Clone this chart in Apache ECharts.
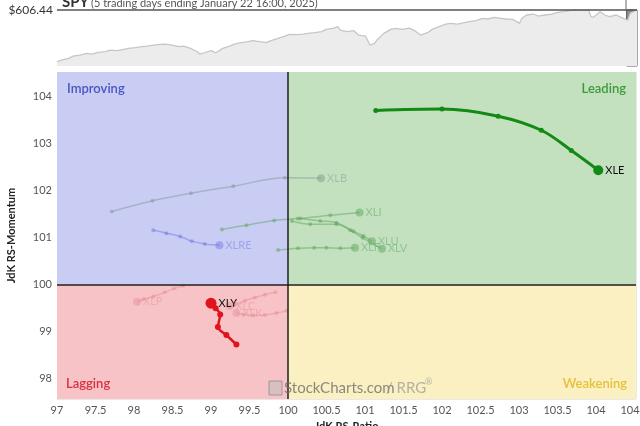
<!DOCTYPE html>
<html><head><meta charset="utf-8">
<script src="https://cdn.jsdelivr.net/npm/echarts@6/dist/echarts.min.js"></script>
<style>html,body{margin:0;padding:0;background:#fff}#c{width:640px;height:426px}</style>
</head><body><div id="c"></div>
<script>
// ---- RRG trails: [JdK RS-Ratio, JdK RS-Momentum], tail -> head ----
const XLE  = [[101.14,103.71],[102.00,103.74],[102.73,103.59],[103.29,103.29],[103.68,102.86],[104.03,102.44]];
const XLY  = [[99.33,98.73],[99.20,98.93],[99.09,99.10],[99.12,99.37],[99.06,99.50],[99.00,99.61]];
const XLB  = [[97.71,101.56],[98.24,101.79],[98.74,101.95],[99.29,102.10],[99.96,102.28],[100.43,102.27]];
const XLRE = [[98.25,101.16],[98.42,101.10],[98.60,101.03],[98.75,100.93],[98.92,100.87],[99.11,100.84]];
const XLI  = [[99.14,101.18],[99.46,101.27],[99.82,101.37],[100.13,101.41],[100.55,101.48],[100.93,101.54]];
const XLU  = [[100.16,101.41],[100.42,101.36],[100.63,101.32],[100.85,101.14],[100.98,101.04],[101.09,100.93]];
const XLV  = [[100.05,101.36],[100.29,101.29],[100.63,101.29],[100.81,101.16],[100.97,101.00],[101.22,100.77]];
const XLF  = [[99.87,100.74],[100.13,100.78],[100.34,100.79],[100.50,100.79],[100.68,100.78],[100.87,100.79]];
const XLP  = [[98.64,99.98],[98.52,99.92],[98.40,99.84],[98.25,99.75],[98.12,99.69],[98.04,99.64]];
const XLC  = [[99.84,99.84],[99.70,99.79],[99.57,99.73],[99.44,99.66],[99.32,99.58],[99.24,99.55]];
const XLK  = [[99.98,99.45],[99.85,99.40],[99.70,99.36],[99.55,99.35],[99.42,99.37],[99.33,99.40]];

// ---- axis ranges ----
const ratioMin = 97, ratioMax = 104.52, ratioStep = 0.5;
const momMin = 97.57, momMax = 104.53;
const centre = 100;

// ---- SPY benchmark panel (trading day index, price) ----
const spyDays = [0,2,5,7,10,13,15,18,21,23,26,29,31,34,37,39,42,45,47,50,53,55,58,61,62,64,67,69,72,75,77,80,83,85,88,91,93,96,99,101,104,107,109,112,115,117,120,122,123,126,129,131,134,136,138,139,142,145,147,150,153,155,158,161,163,166,169,171,174,177,179,182,185,187,190,193,195,198,201,202,204,207,209,212,215,217,220,223,225,228,231,232,233,236,238,240,243,246,248,249,252];
const spyPrice = [485.0,488.9,492.8,498.3,500.7,504.6,503.0,506.9,508.5,512.4,510.9,514.0,516.3,517.9,520.3,521.8,524.2,525.7,526.5,524.2,520.3,521.8,516.3,508.5,503.0,506.1,510.9,506.1,516.3,521.8,526.5,529.7,532.0,534.4,532.0,529.7,534.4,539.8,545.3,549.2,548.5,550.0,551.6,553.2,555.5,561.0,563.3,567.3,559.4,555.5,557.9,547.7,545.3,524.2,528.1,535.9,551.6,561.0,563.3,561.0,564.1,559.4,547.7,553.2,561.0,567.3,573.5,575.1,573.5,576.7,579.0,581.4,586.9,585.3,589.2,586.9,585.3,584.5,575.1,586.9,594.7,597.0,592.3,594.7,597.0,600.2,602.5,604.9,606.4,605.7,606.4,590.8,589.2,602.5,594.7,590.8,594.7,586.9,582.9,598.6,606.4];
const spyLast = 606.44, spyFloor = 475;
const bandStart = 247.5, bandEnd = 252;
const titleMain = 'SPY', titleSub = '(5 trading days ending January 22 16:00, 2025)';

const FONT = 'Lato, "Open Sans", sans-serif';

function trail(name, pts, o) {
  const last = pts.length - 1;
  return {
    type: 'line', name: name, xAxisIndex: 0, yAxisIndex: 0,
    smooth: 0.35, symbol: 'circle', symbolSize: o.dot, z: o.z, silent: true,
    lineStyle: { color: o.color, width: o.width, opacity: o.op },
    itemStyle: { color: o.color, opacity: o.op },
    data: pts.map((p, i) => i === last ? {
      value: p, symbolSize: o.head,
      label: { show: true, position: 'right', distance: 2, formatter: name,
               color: o.label, fontSize: 11, fontFamily: FONT, opacity: o.lop, fontWeight: o.bold ? 'bold' : 'normal' }
    } : p)
  };
}

const green = '#5fa65f', red = '#e58a94';
const series = [
  { type: 'line', xAxisIndex: 0, yAxisIndex: 0, data: [[centre, centre]], symbol: 'none',
    lineStyle: { width: 0 }, silent: true, z: 0,
    markArea: { silent: true, data: [
      [{ name: 'Improving', xAxis: ratioMin, yAxis: centre, itemStyle: { color: '#c9cdf4' },
         label: { position: 'insideTopLeft', distance: 10, color: '#4a55c4', fontSize: 13, fontFamily: FONT, fontWeight: 600 } },
       { xAxis: centre, yAxis: momMax }],
      [{ name: 'Leading', xAxis: centre, yAxis: centre, itemStyle: { color: '#c3e1bf' },
         label: { position: 'insideTopRight', distance: 10, color: '#3c9a3c', fontSize: 13, fontFamily: FONT, fontWeight: 600 } },
       { xAxis: ratioMax, yAxis: momMax }],
      [{ name: 'Lagging', xAxis: ratioMin, yAxis: momMin, itemStyle: { color: '#f8c3c7' },
         label: { position: 'insideBottomLeft', distance: 9, color: '#d8303c', fontSize: 13, fontFamily: FONT, fontWeight: 600 } },
       { xAxis: centre, yAxis: centre }],
      [{ name: 'Weakening', xAxis: centre, yAxis: momMin, itemStyle: { color: '#faf0c1' },
         label: { position: 'insideBottomRight', distance: 9, color: '#e6c03a', fontSize: 13, fontFamily: FONT, fontWeight: 600 } },
       { xAxis: ratioMax, yAxis: centre }]
    ] } },
  { type: 'line', xAxisIndex: 0, yAxisIndex: 0, data: [[centre, centre]], symbol: 'none',
    lineStyle: { width: 0 }, silent: true, z: 2,
    markLine: { silent: true, symbol: ['none', 'none'], label: { show: false },
      lineStyle: { color: '#1e1e1e', width: 1.5, type: 'solid' },
      data: [{ xAxis: centre }, { yAxis: centre }] } },
  trail('XLB', XLB, { color: '#7f9290', op: 0.45, lop: 0.45, width: 1.5, dot: 4, head: 8, z: 4, label: '#7f9290' }),
  trail('XLRE', XLRE, { color: '#6a70e0', op: 0.45, lop: 0.45, width: 1.5, dot: 4, head: 8, z: 4, label: '#6a70e0' }),
  trail('XLI', XLI, { color: green, op: 0.5, lop: 0.5, width: 1.5, dot: 4, head: 8, z: 4, label: green }),
  trail('XLU', XLU, { color: green, op: 0.5, lop: 0.5, width: 1.5, dot: 4, head: 8, z: 4, label: green }),
  trail('XLV', XLV, { color: green, op: 0.5, lop: 0.5, width: 1.5, dot: 4, head: 8, z: 4, label: green }),
  trail('XLF', XLF, { color: green, op: 0.5, lop: 0.5, width: 1.5, dot: 4, head: 8, z: 4, label: green }),
  trail('XLP', XLP, { color: red, op: 0.45, lop: 0.45, width: 1.5, dot: 4, head: 8, z: 4, label: red }),
  trail('XLC', XLC, { color: red, op: 0.45, lop: 0.45, width: 1.5, dot: 4, head: 8, z: 4, label: red }),
  trail('XLK', XLK, { color: red, op: 0.45, lop: 0.45, width: 1.5, dot: 4, head: 8, z: 4, label: red }),
  trail('XLY', XLY, { color: '#e0141c', op: 1, lop: 1, width: 2.5, dot: 6, head: 11, z: 6, label: '#111', bold: false }),
  trail('XLE', XLE, { color: '#138a13', op: 1, lop: 1, width: 3, dot: 5, head: 10, z: 6, label: '#111', bold: false }),
  { type: 'line', xAxisIndex: 1, yAxisIndex: 1, symbol: 'none', silent: true, z: 3,
    data: spyDays.map((d, i) => [d, spyPrice[i]]),
    lineStyle: { color: '#c6c6c6', width: 1.3 },
    areaStyle: { color: '#ececec', opacity: 1 },
    markArea: { silent: true, data: [[{ xAxis: bandStart, yAxis: spyFloor, itemStyle: { color: '#8e8e8e', borderColor: '#555', borderWidth: 1 } },
                                      { xAxis: bandEnd, yAxis: spyLast }]] },
    markLine: { silent: true, symbol: ['none', 'none'],
      lineStyle: { color: '#555', width: 1.5, type: 'solid' },
      label: { position: 'start', formatter: '$' + spyLast.toFixed(2), color: '#333', fontSize: 12, fontFamily: FONT, distance: 4 },
      data: [{ yAxis: spyLast }] } }
];

const chart = echarts.init(document.getElementById('c'), null, { renderer: 'canvas' });
chart.setOption({
  animation: false,
  backgroundColor: '#fff',
  grid: [
    { left: 57, right: 4, top: 72, bottom: 27, containLabel: false, outerBoundsMode: 'none' },
    { left: 57, right: 3, top: 10, bottom: 360, containLabel: false, outerBoundsMode: 'none' }
  ],
  xAxis: [
    { type: 'value', gridIndex: 0, min: ratioMin, max: ratioMax, interval: ratioStep, z: 1,
      axisLine: { show: false }, axisTick: { show: false },
      splitLine: { show: true, lineStyle: { color: 'rgba(0,0,0,0.09)', width: 1 } },
      axisLabel: { color: '#555', fontSize: 11, fontFamily: FONT, margin: 6, showMaxLabel: false },
      name: 'JdK RS-Ratio', nameLocation: 'middle', nameGap: 22,
      nameTextStyle: { color: '#222', fontSize: 11, fontWeight: 'bold', fontFamily: FONT } },
    { type: 'value', gridIndex: 1, min: 0, max: bandEnd, show: false }
  ],
  yAxis: [
    { type: 'value', gridIndex: 0, min: momMin, max: momMax, minInterval: 1, maxInterval: 1, splitNumber: 7, z: 1,
      axisLine: { show: false }, axisTick: { show: false },
      splitLine: { show: true, lineStyle: { color: 'rgba(0,0,0,0.09)', width: 1 } },
      axisLabel: { color: '#555', fontSize: 11, fontFamily: FONT, margin: 5, showMinLabel: false, showMaxLabel: false },
      name: 'JdK RS-Momentum', nameLocation: 'middle', nameGap: 40, nameRotate: 90,
      nameTextStyle: { color: '#222', fontSize: 11, fontWeight: 'bold', fontFamily: FONT } },
    { type: 'value', gridIndex: 1, min: spyFloor, max: spyLast, show: false }
  ],
  series: series,
  graphic: { elements: [
    { type: 'line', z: 100, shape: { x1: 626, y1: 0, x2: 626, y2: 10 }, style: { stroke: '#666', lineWidth: 1 }, silent: true },
    { type: 'text', z: 100, x: 62, y: 10, silent: true,
      style: { text: titleMain, fontSize: 15, fontWeight: 'bold', fontFamily: FONT, fill: '#333', verticalAlign: 'bottom' } },
    { type: 'text', z: 100, x: 91, y: 9, silent: true,
      style: { text: titleSub, fontSize: 11, fontFamily: FONT, fill: '#555', verticalAlign: 'bottom' } },
    { type: 'rect', z: 100, shape: { x: 269, y: 381, width: 13, height: 14 }, silent: true,
      style: { fill: 'rgba(190,190,190,0.55)', stroke: 'rgba(120,120,120,0.6)', lineWidth: 1 } },
    { type: 'text', z: 100, x: 284, y: 388, silent: true,
      style: { text: 'StockCharts.com', fontSize: 15, fontFamily: FONT, fill: 'rgba(110,110,110,0.8)', verticalAlign: 'middle' } },
    { type: 'text', z: 100, x: 386, y: 388, silent: true,
      style: { text: '/ RRG', fontSize: 15, fontFamily: FONT, fill: 'rgba(150,150,150,0.7)', verticalAlign: 'middle' } },
    { type: 'text', z: 100, x: 425, y: 382, silent: true,
      style: { text: '®', fontSize: 9, fontFamily: FONT, fill: 'rgba(150,150,150,0.7)', verticalAlign: 'middle' } }
  ] }
});
</script>
</body></html>
